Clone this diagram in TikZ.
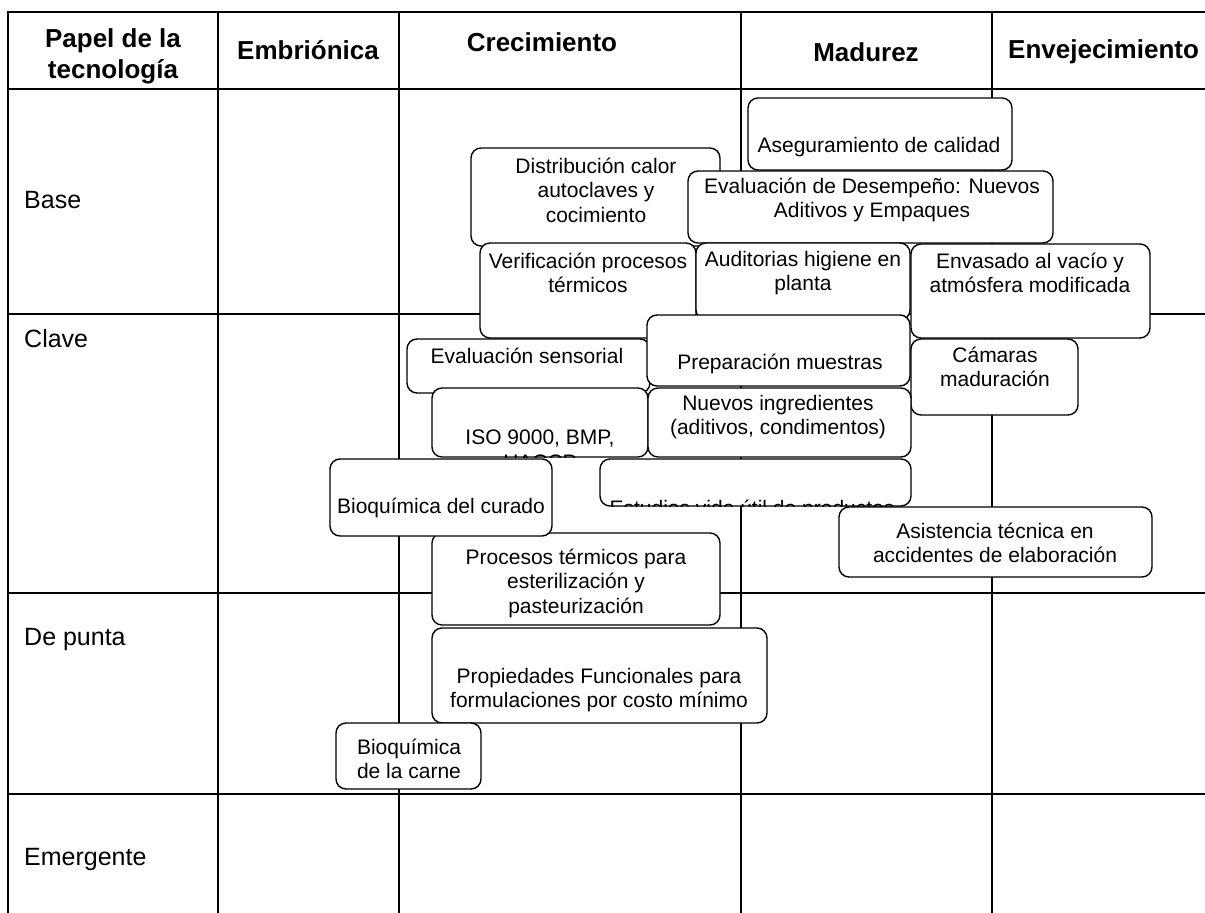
\documentclass[tikz,border=0pt]{standalone}
\usepackage{fontspec}
\setmainfont{Liberation Sans}
\tikzset{
    caja/.style={
           rectangle,
           rounded corners=10pt,
           draw=black, line width=1.4pt,
           fill=white,
           inner sep=0pt,
           outer sep=0pt},
    texto/.style={
           align=center,
           inner sep=0pt,
           font=\fontsize{21}{24.5}\selectfont},
    cabecera/.style={
           align=center,
           inner sep=0pt,
           font=\fontsize{26}{31}\selectfont\bfseries},
    fila/.style={
           anchor=west,
           inner sep=0pt,
           font=\fontsize{25}{30}\selectfont},
    rejilla/.style={
           line width=2.2pt}
    }

\begin{document}
\begin{tikzpicture}[x=1pt,y=-1pt]
\useasboundingbox (0,0) rectangle (1205,913);
\draw[rejilla] (8,913) -- (8,12) -- (1205,12);
\draw[rejilla] (8,89) -- (1205,89);
\draw[rejilla] (8,314) -- (1205,314);
\draw[rejilla] (8,593) -- (1205,593);
\draw[rejilla] (8,794) -- (1205,794);
\draw[rejilla] (218,12) -- (218,913);
\draw[rejilla] (399,12) -- (399,913);
\draw[rejilla] (741,12) -- (741,913);
\draw[rejilla] (992,12) -- (992,913);

\node[cabecera] (papel) at (113,56) {Papel de la\\tecnología};
\node[cabecera] (embrion) at (308,50) {Embriónica};
\node[cabecera] (crec) at (542,42) {Crecimiento};
\node[cabecera] (madur) at (866,52) {Madurez};
\node[cabecera, anchor=west] (envej) at (1008,52) {Envejecimiento};

\node[fila] (base) at (24,200) {Base};
\node[fila] (clave) at (24,339) {Clave};
\node[fila] (punta) at (24,639) {De punta};
\node[fila] (emerg) at (24,859) {Emergente};

\node[caja, minimum width=264pt, minimum height=72pt] (aseg) at (880,134) {};
\node[texto] (aseg-t) at (879,147) {Aseguramiento de calidad};
\node[caja, minimum width=249pt, minimum height=98pt] (distr) at (595.5,197) {};
\node[texto] (distr-t) at (596,190) {Distribución calor\\autoclaves y\\cocimiento};
\node[caja, minimum width=365pt, minimum height=72pt] (evdes) at (870.5,207) {};
\node[texto] (evdes-t) at (872,200) {Evaluación de Desempeño: Nuevos\\Aditivos y Empaques};
\node[caja, minimum width=216pt, minimum height=95pt] (verif) at (588,290.5) {};
\node[texto] (verif-t) at (588,273) {Verificación procesos\\térmicos};
\node[caja, minimum width=214pt, minimum height=77pt] (audit) at (803,281.5) {};
\node[texto] (audit-t) at (803,273) {Auditorias higiene en\\planta};
\node[caja, minimum width=239pt, minimum height=94pt] (envas) at (1030.5,291) {};
\node[texto] (envas-t) at (1030,273) {Envasado al vacío y\\atmósfera modificada};
\node[caja, minimum width=243pt, minimum height=54pt] (evsens) at (528.5,366) {};
\node[texto] (evsens-t) at (527,356) {Evaluación sensorial};
\node[caja, minimum width=263pt, minimum height=71pt] (prep) at (778.5,350.5) {};
\node[texto] (prep-t) at (780,364) {Preparación muestras};
\node[caja, minimum width=167pt, minimum height=76pt] (camar) at (994.5,377) {};
\node[texto] (camar-t) at (995,367) {Cámaras\\maduración};
\node[caja, minimum width=216pt, minimum height=69pt] (iso) at (540,422.5) {};
\begin{scope}
\clip[rounded corners=10pt] (iso.south west) rectangle (iso.north east);
\node[texto] (iso-t) at (540,450) {ISO 9000, BMP,\\HACCP};
\end{scope}
\node[caja, minimum width=263pt, minimum height=69pt] (nuevos) at (779.5,422.5) {};
\node[texto] (nuevos-t) at (778,417) {Nuevos ingredientes\\(aditivos, condimentos)};
\node[caja, minimum width=311pt, minimum height=47pt] (estud) at (755.5,482.5) {};
\begin{scope}
\clip[rounded corners=10pt] (estud.south west) rectangle (estud.north east);
\node[texto] (estud-t) at (752,510) {Estudios vida útil de productos};
\end{scope}
\node[caja, minimum width=313pt, minimum height=70pt] (asist) at (995.5,542) {};
\node[texto] (asist-t) at (995,543) {Asistencia técnica en\\accidentes de elaboración};
\node[caja, minimum width=288pt, minimum height=92pt] (proc) at (576,579) {};
\node[texto] (proc-t) at (576,583) {Procesos térmicos para\\esterilización y\\pasteurización};
\node[caja, minimum width=222pt, minimum height=77pt] (bcur) at (441,497.5) {};
\node[texto] (bcur-t) at (441,508) {Bioquímica del curado};
\node[caja, minimum width=335pt, minimum height=95pt] (prop) at (599.5,675.5) {};
\node[texto] (prop-t) at (599,690) {Propiedades Funcionales para\\formulaciones por costo mínimo};
\node[caja, minimum width=145pt, minimum height=66pt] (bcar) at (408.5,756) {};
\node[texto] (bcar-t) at (409,759) {Bioquímica\\de la carne};
\end{tikzpicture}
\end{document}
